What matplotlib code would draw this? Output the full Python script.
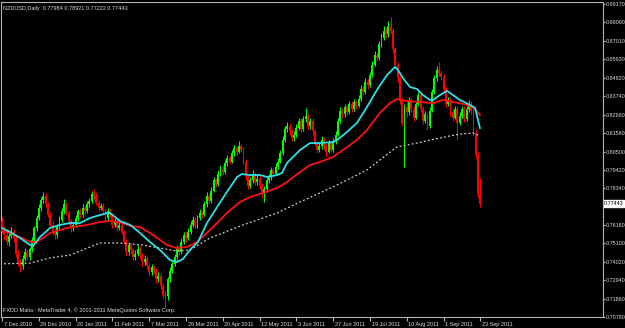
import matplotlib
matplotlib.use("Agg")
import matplotlib.pyplot as plt
import matplotlib.transforms as mtransforms

# ---------------- data ----------------
opens = [
 0.7640,0.7585,0.7560,0.7520,0.7555,0.7580,0.7540,0.7450,0.7400,0.7380,
 0.7420,0.7460,0.7430,0.7475,0.7530,0.7600,0.7660,0.7720,0.7765,0.7790,
 0.7740,0.7680,0.7620,0.7580,0.7560,0.7610,0.7650,0.7700,0.7740,0.7690,
 0.7640,0.7600,0.7620,0.7660,0.7700,0.7680,0.7720,0.7700,0.7740,0.7760,
 0.7800,0.7790,0.7750,0.7720,0.7730,0.7700,0.7660,0.7700,0.7680,0.7620,
 0.7640,0.7600,0.7620,0.7580,0.7520,0.7460,0.7500,0.7470,0.7430,0.7450,
 0.7480,0.7440,0.7400,0.7420,0.7380,0.7340,0.7370,0.7350,0.7300,0.7320,
 0.7260,0.7210,0.7200,0.7300,0.7350,0.7390,0.7430,0.7480,0.7460,0.7520,
 0.7560,0.7540,0.7580,0.7620,0.7650,0.7610,0.7660,0.7690,0.7680,0.7740,
 0.7790,0.7760,0.7820,0.7880,0.7860,0.7920,0.7950,0.7930,0.7980,0.8010,
 0.7990,0.8040,0.8070,0.8050,0.8080,0.8060,0.7990,0.7900,0.7850,0.7880,
 0.7920,0.7870,0.7890,0.7850,0.7800,0.7830,0.7880,0.7900,0.7940,0.7920,
 0.7960,0.7990,0.8040,0.8120,0.8180,0.8200,0.8170,0.8130,0.8150,0.8190,
 0.8230,0.8180,0.8240,0.8260,0.8200,0.8230,0.8170,0.8100,0.8060,0.8080,
 0.8120,0.8080,0.8050,0.8100,0.8060,0.8110,0.8150,0.8230,0.8290,0.8270,
 0.8310,0.8280,0.8330,0.8300,0.8340,0.8320,0.8360,0.8420,0.8400,0.8460,
 0.8440,0.8500,0.8560,0.8620,0.8600,0.8680,0.8720,0.8760,0.8740,0.8790,
 0.8760,0.8650,0.8560,0.8480,0.8350,0.8220,0.8310,0.8280,0.8350,0.8300,
 0.8250,0.8330,0.8380,0.8300,0.8230,0.8270,0.8200,0.8290,0.8400,0.8480,
 0.8530,0.8510,0.8490,0.8420,0.8330,0.8350,0.8280,0.8250,0.8300,0.8220,
 0.8260,0.8300,0.8240,0.8300,0.8330,0.8290,0.8160,0.8030,0.77984]
highs = [
 0.7665,0.7610,0.7580,0.7575,0.7605,0.7595,0.7555,0.7470,0.7420,0.7440,
 0.7485,0.7480,0.7490,0.7550,0.7615,0.7680,0.7740,0.7785,0.7815,0.7805,
 0.7755,0.7695,0.7640,0.7600,0.7625,0.7670,0.7720,0.7770,0.7755,0.7705,
 0.7655,0.7640,0.7680,0.7715,0.7720,0.7740,0.7735,0.7760,0.7780,0.7820,
 0.7830,0.7805,0.7765,0.7750,0.7745,0.7715,0.7720,0.7715,0.7690,0.7660,
 0.7655,0.7640,0.7635,0.7590,0.7535,0.7520,0.7515,0.7485,0.7470,0.7500,
 0.7495,0.7455,0.7440,0.7435,0.7395,0.7390,0.7385,0.7365,0.7340,0.7335,
 0.7275,0.7230,0.7315,0.7370,0.7410,0.7450,0.7500,0.7495,0.7540,0.7580,
 0.7575,0.7600,0.7640,0.7670,0.7665,0.7680,0.7710,0.7705,0.7760,0.7810,
 0.7805,0.7840,0.7900,0.7895,0.7940,0.7970,0.7965,0.8000,0.8030,0.8025,
 0.8060,0.8090,0.8085,0.8110,0.8095,0.8075,0.8005,0.7915,0.7900,0.7940,
 0.7930,0.7910,0.7905,0.7865,0.7850,0.7900,0.7920,0.7960,0.7955,0.7980,
 0.8010,0.8060,0.8140,0.8200,0.8225,0.8215,0.8185,0.8170,0.8210,0.8250,
 0.8245,0.8260,0.8306,0.8275,0.8250,0.8245,0.8185,0.8115,0.8100,0.8140,
 0.8135,0.8095,0.8120,0.8115,0.8130,0.8170,0.8250,0.8312,0.8305,0.8330,
 0.8325,0.8350,0.8345,0.8360,0.8355,0.8380,0.8440,0.8435,0.8480,0.8475,
 0.8520,0.8580,0.8640,0.8635,0.8700,0.8745,0.8785,0.8775,0.8815,0.8841,
 0.8775,0.8665,0.8575,0.8495,0.8365,0.8330,0.8340,0.8370,0.8365,0.8320,
 0.8350,0.8400,0.8395,0.8315,0.8290,0.8285,0.8310,0.8420,0.8500,0.8550,
 0.8576,0.8530,0.8505,0.8435,0.8370,0.8365,0.8300,0.8320,0.8315,0.8280,
 0.8320,0.8315,0.8320,0.8353,0.8345,0.8305,0.8175,0.8045,0.78921]
lows = [
 0.7570,0.7535,0.7500,0.7495,0.7540,0.7520,0.7430,0.7375,0.7343,0.7360,
 0.7405,0.7410,0.7415,0.7460,0.7515,0.7585,0.7645,0.7700,0.7745,0.7725,
 0.7665,0.7600,0.7560,0.7535,0.7545,0.7595,0.7635,0.7685,0.7675,0.7620,
 0.7580,0.7585,0.7605,0.7640,0.7660,0.7665,0.7680,0.7690,0.7725,0.7745,
 0.7770,0.7735,0.7700,0.7705,0.7685,0.7640,0.7650,0.7665,0.7600,0.7605,
 0.7585,0.7590,0.7565,0.7505,0.7440,0.7445,0.7450,0.7410,0.7415,0.7435,
 0.7420,0.7380,0.7385,0.7360,0.7320,0.7325,0.7330,0.7280,0.7285,0.7240,
 0.7190,0.7131,0.7180,0.7285,0.7335,0.7375,0.7415,0.7440,0.7450,0.7505,
 0.7520,0.7530,0.7565,0.7605,0.7595,0.7600,0.7645,0.7660,0.7670,0.7725,
 0.7745,0.7750,0.7810,0.7840,0.7850,0.7905,0.7910,0.7920,0.7965,0.7975,
 0.7980,0.8025,0.8030,0.8040,0.8045,0.7975,0.7880,0.7830,0.7835,0.7865,
 0.7855,0.7855,0.7830,0.7780,0.7753,0.7815,0.7865,0.7885,0.7900,0.7910,
 0.7945,0.7980,0.8030,0.8105,0.8165,0.8150,0.8110,0.8115,0.8135,0.8175,
 0.8165,0.8170,0.8225,0.8185,0.8185,0.8150,0.8080,0.8040,0.8045,0.8065,
 0.8060,0.8018,0.8040,0.8045,0.8050,0.8095,0.8140,0.8215,0.8250,0.8255,
 0.8260,0.8270,0.8285,0.8290,0.8300,0.8310,0.8350,0.8380,0.8390,0.8420,
 0.8430,0.8490,0.8550,0.8580,0.8590,0.8665,0.8705,0.8720,0.8725,0.8745,
 0.8630,0.8540,0.8460,0.8330,0.8200,0.7960,0.8255,0.8265,0.8280,0.8230,
 0.8240,0.8315,0.8285,0.8210,0.8215,0.8177,0.8190,0.8280,0.8390,0.8465,
 0.8495,0.8470,0.8400,0.8310,0.8315,0.8260,0.8230,0.8240,0.8118,0.8205,
 0.8245,0.8225,0.8230,0.8285,0.8270,0.8140,0.8010,0.7780,0.77222]
closes = [
 0.7585,0.7560,0.7520,0.7555,0.7580,0.7540,0.7450,0.7400,0.7380,0.7420,
 0.7460,0.7430,0.7475,0.7530,0.7600,0.7660,0.7720,0.7765,0.7790,0.7740,
 0.7680,0.7620,0.7580,0.7560,0.7610,0.7650,0.7700,0.7740,0.7690,0.7640,
 0.7600,0.7620,0.7660,0.7700,0.7680,0.7720,0.7700,0.7740,0.7760,0.7800,
 0.7790,0.7750,0.7720,0.7730,0.7700,0.7660,0.7700,0.7680,0.7620,0.7640,
 0.7600,0.7620,0.7580,0.7520,0.7460,0.7500,0.7470,0.7430,0.7450,0.7480,
 0.7440,0.7400,0.7420,0.7380,0.7340,0.7370,0.7350,0.7300,0.7320,0.7260,
 0.7210,0.7200,0.7300,0.7350,0.7390,0.7430,0.7480,0.7460,0.7520,0.7560,
 0.7540,0.7580,0.7620,0.7650,0.7610,0.7660,0.7690,0.7680,0.7740,0.7790,
 0.7760,0.7820,0.7880,0.7860,0.7920,0.7950,0.7930,0.7980,0.8010,0.7990,
 0.8040,0.8070,0.8050,0.8080,0.8060,0.7990,0.7900,0.7850,0.7880,0.7920,
 0.7870,0.7890,0.7850,0.7800,0.7830,0.7880,0.7900,0.7940,0.7920,0.7960,
 0.7990,0.8040,0.8120,0.8180,0.8200,0.8170,0.8130,0.8150,0.8190,0.8230,
 0.8180,0.8240,0.8260,0.8200,0.8230,0.8170,0.8100,0.8060,0.8080,0.8120,
 0.8080,0.8050,0.8100,0.8060,0.8110,0.8150,0.8230,0.8290,0.8270,0.8310,
 0.8280,0.8330,0.8300,0.8340,0.8320,0.8360,0.8420,0.8400,0.8460,0.8440,
 0.8500,0.8560,0.8620,0.8600,0.8680,0.8720,0.8760,0.8740,0.8790,0.8760,
 0.8650,0.8560,0.8480,0.8350,0.8220,0.8310,0.8280,0.8350,0.8300,0.8250,
 0.8330,0.8380,0.8300,0.8230,0.8270,0.8200,0.8290,0.8400,0.8480,0.8530,
 0.8510,0.8490,0.8420,0.8330,0.8350,0.8280,0.8250,0.8300,0.8220,0.8260,
 0.8300,0.8240,0.8300,0.8330,0.8290,0.8160,0.8030,0.7798,0.77443]

# moving averages (bar position, price)
cyan_x = [-0.9,3.5,7.8,12.2,13.5,16.5,20.9,25.2,29.6,33.9,38.3,42.6,45.7,47.0,51.3,55.7,60.0,64.3,68.7,
          73.0,76.1,78.7,81.7,85.2,89.1,93.5,97.8,102.2,104.3,107.8,112.2,115.2,119.6,121.7,123.9,128.3,
          129.6,133.9,138.3,143.9,145.7,150.0,154.3,158.7,163.0,167.4,170.9,172.2,174.3,177.4,180.4,183.0,
          186.1,187.4,190.4,193.5,196.1,199.1,203.5,205.7,207.8]
cyan_y = [0.7607,0.7578,0.7542,0.7501,0.7495,0.7548,0.7601,0.7619,0.7630,0.7630,0.7660,0.7677,0.7689,0.7689,
          0.7642,0.7619,0.7572,0.7519,0.7472,0.7413,0.7401,0.7419,0.7472,0.7519,0.7630,0.7724,0.7813,0.7901,
          0.7918,0.7912,0.7912,0.7901,0.7912,0.7924,0.7983,0.8042,0.8059,0.8100,0.8100,0.8106,0.8118,0.8165,
          0.8218,0.8312,0.8412,0.8500,0.8547,0.8529,0.8482,0.8429,0.8418,0.8382,0.8353,0.8353,0.8382,0.8406,
          0.8382,0.8353,0.8324,0.8306,0.8188]
red_x = [-0.9,3.5,7.8,12.2,15.2,20.9,28.3,37.0,42.6,47.0,52.6,55.7,60.0,64.3,68.7,71.7,76.1,80.4,84.8,
         90.4,97.8,103.5,107.8,113.5,119.6,123.9,129.6,133.9,138.3,143.9,148.3,154.3,158.7,164.3,168.7,
         171.7,176.1,181.7,187.4,191.7,196.1,200.4,204.8,207.8]
red_y = [0.7589,0.7572,0.7548,0.7519,0.7519,0.7572,0.7601,0.7619,0.7636,0.7642,0.7630,0.7613,0.7607,0.7572,
         0.7531,0.7501,0.7483,0.7489,0.7519,0.7589,0.7689,0.7754,0.7783,0.7807,0.7836,0.7871,0.7930,0.7971,
         0.7989,0.8018,0.8059,0.8118,0.8177,0.8277,0.8335,0.8359,0.8347,0.8341,0.8335,0.8353,0.8341,0.8330,
         0.8312,0.8265]
dot_x = [-0.9,12.2,20.9,29.6,42.6,51.3,61.3,68.7,76.1,81.7,90.4,104.8,119.6,129.6,143.9,158.7,171.7,180.4,
         190.4,199.1,204.8,207.8]
dot_y = [0.7390,0.7395,0.7425,0.7442,0.7513,0.7513,0.7501,0.7483,0.7466,0.7472,0.7542,0.7619,0.7689,0.7754,
         0.7842,0.7942,0.8077,0.8100,0.8130,0.8153,0.8159,0.8142]

price_ticks = [0.89170,0.88090,0.87010,0.85930,0.84820,0.83740,0.82660,0.81580,0.80500,
               0.79420,0.78340,0.76180,0.75100,0.74020,0.72940,0.71860,0.70780]
date_ticks = [0,16,32,48,64,80,96,112,128,144,160,176,192,208]
date_labels = ["7 Dec 2010","29 Dec 2010","20 Jan 2011","11 Feb 2011","7 Mar 2011","29 Mar 2011",
               "20 Apr 2011","12 May 2011","3 Jun 2011","27 Jun 2011","19 Jul 2011","10 Aug 2011",
               "1 Sep 2011","23 Sep 2011"]
title_text = "NZDUSD,Daily  0.77984 0.78921 0.77222 0.77443"
footer_text = "FXDD Malta - MetaTrader 4, \u00a9 2001-2011 MetaQuotes Software Corp."
last_price = 0.77443

# ---------------- style ----------------
plt.rcParams['font.family'] = ['Liberation Sans', 'DejaVu Sans']
FS = 4.0
FSY = 3.85
axis_col = '#b4b4b4'
text_col = '#dcdcdc'
up_col = '#00ff00'
dn_col = '#ff0000'

W, H = 625, 328
fig = plt.figure(figsize=(W/100, H/100), dpi=100, facecolor='black')
ax = fig.add_axes([1/W, 1-317/H, (603-1)/W, (317-2)/H], facecolor='black')

n = len(closes)
for i in range(n):
    o, h, l, c = opens[i], highs[i], lows[i], closes[i]
    col = up_col if c >= o else dn_col
    ax.vlines(i, l, h, color=col, linewidth=0.75, zorder=2)
    body = abs(c - o)
    if body < 0.0002:
        body = 0.0002
    ax.bar(i, body, bottom=min(o, c), width=0.8, color=col, linewidth=0, zorder=3)

ax.plot(dot_x, dot_y, color='#d0d0d0', linewidth=0.9, linestyle=(0, (1.5, 1.8)), zorder=4)
ax.plot(red_x, red_y, color='#ff1010', linewidth=1.3, zorder=5)
ax.plot(cyan_x, cyan_y, color='#30e0e8', linewidth=1.3, zorder=6)

px = 0.0005875
ax.set_ylim(0.70780, 0.89170 + 2*px)
ax.set_xlim((1-2)/2.3, (603-2)/2.3)

for s in ax.spines.values():
    s.set_color(axis_col)
    s.set_linewidth(0.8)

ax.yaxis.tick_right()
ax.set_yticks(price_ticks)
ax.set_yticklabels([f"{v:.5f}" for v in price_ticks])
ax.tick_params(axis='y', colors=axis_col, labelcolor=text_col, labelsize=FSY, length=1.6,
               width=0.8, pad=0.2, direction='out')
ax.set_xticks(date_ticks)
ax.set_xticklabels(date_labels)
ax.tick_params(axis='x', colors=axis_col, labelcolor=text_col, labelsize=FS, length=3,
               width=0.8, pad=0.8, direction='out')
offset = mtransforms.ScaledTranslation(1.5/100, 0, fig.dpi_scale_trans)
for lab in ax.get_xticklabels():
    lab.set_horizontalalignment('left')
    lab.set_transform(lab.get_transform() + offset)

ax.text(0.004, 0.988, title_text, transform=ax.transAxes, color=text_col, fontsize=FS,
        ha='left', va='top')
ax.text(0.003, 0.012, footer_text, transform=ax.transAxes, color=text_col, fontsize=FS,
        ha='left', va='bottom')

trans = mtransforms.blended_transform_factory(ax.transAxes, ax.transData)
ax.text(1.002, last_price, f"{last_price:.5f}", transform=trans, color='black', fontsize=FSY,
        ha='left', va='center',
        bbox=dict(boxstyle='square,pad=0.12', facecolor='white', edgecolor='white'), zorder=10)

fig.savefig('out.png', dpi=100, facecolor='black')
